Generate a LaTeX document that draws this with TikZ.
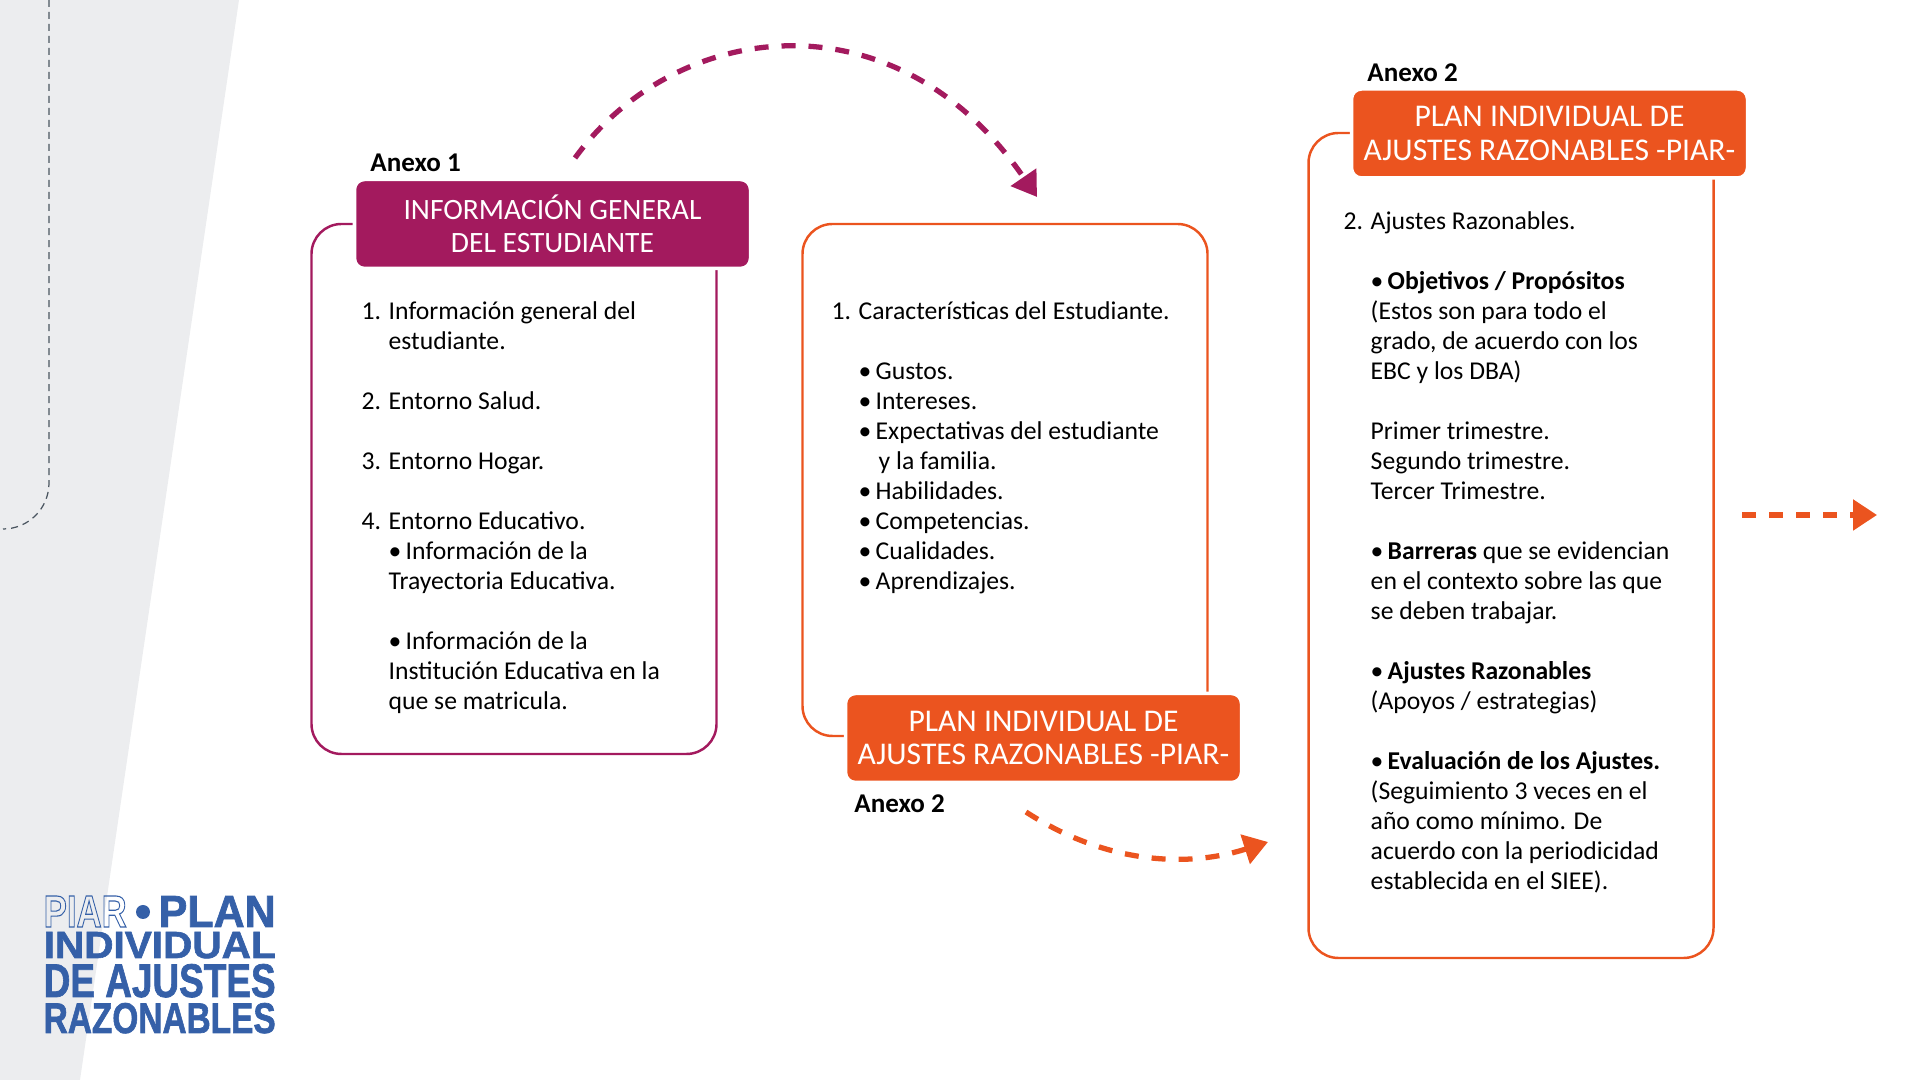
\documentclass[tikz,border=0pt]{standalone}
\usepackage{fontspec}
\usepackage{xcolor}
\usepackage{graphicx}
\setmainfont{Carlito}
\newfontfamily\logofont{Liberation Sans Bold}[FakeBold=1.6]
\newfontfamily\logoplain{Liberation Sans Bold}
\definecolor{piarmaroon}{HTML}{A31A5E}
\definecolor{piarorange}{HTML}{EB541F}
\definecolor{piargrey}{HTML}{ECEDEF}
\definecolor{piarblue}{HTML}{3560A8}
\definecolor{piarslate}{HTML}{4A5560}
\usetikzlibrary{arrows.meta, positioning, calc}
\newcommand{\logoline}[3]{\resizebox{#1}{#2}{\logofont #3}}
\newcommand{\outlined}[1]{\special{pdf:code 1 Tr 0.25 w}{\logoplain #1}\special{pdf:code 0 Tr}}
\newcommand{\numitem}[1]{\makebox[0.27cm][l]{#1}}
\newcommand{\bulitem}{\makebox[0.17cm][l]{•}}

\begin{document}
\begin{tikzpicture}[
        frame/.style={rectangle, draw=#1, line width=0.7pt, rounded corners=0.3cm, minimum width=4.05cm},
        header/.style={rectangle, fill=#1, draw=white, line width=1pt, rounded corners=0.1cm, minimum width=3.96cm, minimum height=0.89cm, align=center, text=white, inner sep=0pt, font=\fontsize{9}{9.4}\selectfont},
        anexo/.style={inner sep=0pt, font=\fontsize{7.7}{9}\selectfont\bfseries},
        body/.style={anchor=north west, inner sep=0pt, align=left, font=\fontsize{7.3}{8.54}\selectfont},
        logo/.style={anchor=base west, inner sep=0pt, text=piarblue},
        dasharrow/.style={draw=#1, line width=1.5pt, dash pattern=on 0.14cm off 0.13cm, -{Triangle[length=0.24cm, width=0.3cm, fill=#1]}},
        node distance=0.06cm
    ]
        \useasboundingbox (0,0) rectangle (19.2,10.8);

        % Background strip
        \fill[piargrey] (0,0) -- (0.8,0) -- (2.39,10.8) -- (0,10.8) -- cycle;
        \draw[piarslate, line width=0.35pt, dash pattern=on 0.07cm off 0.05cm] (0.49,10.8) -- (0.49,5.97) arc[start angle=0, end angle=-90, radius=0.46];

        % Anexo 1
        \node[frame=piarmaroon, minimum height=5.30cm] (frameone) at (5.14,5.91) {};
        \node[header=piarmaroon, font=\fontsize{8.4}{9.4}\selectfont] (headone) at (5.525,8.56) {INFORMACIÓN GENERAL\\DEL ESTUDIANTE};
        \node[anexo, above right=0.05cm and 0.17cm of headone.north west] (anexoone) {Anexo 1};
        \node[body] (bodyone) at (3.61,7.79) {%
            \numitem{1.}Información general del\\
            \numitem{}estudiante.\\
            \mbox{}\\
            \numitem{2.}Entorno Salud.\\
            \mbox{}\\
            \numitem{3.}Entorno Hogar.\\
            \mbox{}\\
            \numitem{4.}Entorno Educativo.\\
            \numitem{}\bulitem Información de la\\
            \numitem{}Trayectoria Educativa.\\
            \mbox{}\\
            \numitem{}\bulitem Información de la\\
            \numitem{}Institución Educativa en la\\
            \numitem{}que se matricula.};

        % Anexo 2, first part
        \node[frame=piarorange, minimum height=5.12cm] (frametwo) at (10.05,6.00) {};
        \node[header=piarorange] (headtwo) at (10.435,3.42) {PLAN INDIVIDUAL DE\\AJUSTES RAZONABLES -PIAR-};
        \node[anexo, below right=0.10cm and 0.10cm of headtwo.south west] (anexotwo) {Anexo 2};
        \node[body] (bodytwo) at (8.31,7.79) {%
            \numitem{1.}Características del Estudiante.\\
            \mbox{}\\
            \numitem{}\bulitem Gustos.\\
            \numitem{}\bulitem Intereses.\\
            \numitem{}\bulitem Expectativas del estudiante\\
            \numitem{}\hspace{0.2cm}y la familia.\\
            \numitem{}\bulitem Habilidades.\\
            \numitem{}\bulitem Competencias.\\
            \numitem{}\bulitem Cualidades.\\
            \numitem{}\bulitem Aprendizajes.};

        % Anexo 2, second part
        \node[frame=piarorange, minimum height=8.25cm] (framethree) at (15.11,5.345) {};
        \node[header=piarorange] (headthree) at (15.495,9.465) {PLAN INDIVIDUAL DE\\AJUSTES RAZONABLES -PIAR-};
        \node[anexo, above right=0.05cm and 0.17cm of headthree.north west] (anexothree) {Anexo 2};
        \node[body] (bodythree) at (13.43,8.69) {%
            \numitem{2.}Ajustes Razonables.\\
            \mbox{}\\
            \numitem{}\bulitem\textbf{Objetivos / Propósitos}\\
            \numitem{}(Estos son para todo el\\
            \numitem{}grado, de acuerdo con los\\
            \numitem{}EBC y los DBA)\\
            \mbox{}\\
            \numitem{}Primer trimestre.\\
            \numitem{}Segundo trimestre.\\
            \numitem{}Tercer Trimestre.\\
            \mbox{}\\
            \numitem{}\bulitem\textbf{Barreras} que se evidencian\\
            \numitem{}en el contexto sobre las que\\
            \numitem{}se deben trabajar.\\
            \mbox{}\\
            \numitem{}\bulitem\textbf{Ajustes Razonables}\\
            \numitem{}(Apoyos / estrategias)\\
            \mbox{}\\
            \numitem{}\bulitem\textbf{Evaluación de los Ajustes.}\\
            \numitem{}(Seguimiento 3 veces en el\\
            \numitem{}año como mínimo. De\\
            \numitem{}acuerdo con la periodicidad\\
            \numitem{}establecida en el SIEE).};

        % Arrows
        \coordinate (arcstart) at (5.75,9.22);
        \coordinate (arcend) at (10.37,8.83);
        \coordinate (swoopstart) at (10.26,2.68);
        \coordinate (swoopend) at (12.68,2.38);
        \coordinate (exitstart) at (17.42,5.65);
        \coordinate (exitend) at (18.77,5.65);
        \draw[dasharrow=piarmaroon] (arcstart) .. controls (6.75,10.6) and (8.95,10.9) .. (arcend);
        \draw[dasharrow=piarorange] (swoopstart) .. controls (11.0,2.2) and (11.8,2.1) .. (swoopend);
        \draw[dasharrow=piarorange] (exitstart) -- (exitend);

        % Logo
        \node[logo] (logopiar) at (0.43,1.53) {\resizebox{0.83cm}{0.31cm}{\outlined{PIAR}}};
        \node[circle, fill=piarblue, inner sep=0pt, minimum size=0.14cm] (logodot) at (1.43,1.68) {};
        \node[logo] (logoplan) at (1.58,1.53) {\logoline{1.17cm}{0.31cm}{PLAN}};
        \node[logo] (logoindividual) at (0.43,1.22) {\logoline{2.32cm}{0.26cm}{INDIVIDUAL}};
        \node[logo] (logoajustes) at (0.43,0.83) {\logoline{2.32cm}{0.33cm}{DE AJUSTES}};
        \node[logo] (logorazonables) at (0.43,0.47) {\logoline{2.32cm}{0.30cm}{RAZONABLES}};
    \end{tikzpicture}
\end{document}
